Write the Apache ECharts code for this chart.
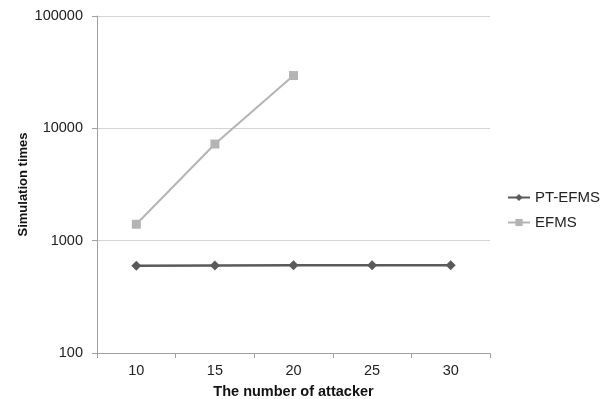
<!DOCTYPE html>
<html>
<head>
<meta charset="utf-8">
<script src="https://cdn.jsdelivr.net/npm/echarts@6/dist/echarts.min.js"></script>
<style>
html,body{margin:0;padding:0;background:#fff;}
#chart{width:610px;height:399px;}
</style>
</head>
<body>
<div id="chart"></div>
<script>
const categories = ['10', '15', '20', '25', '30'];
const ptEfms = [598, 602, 603, 603, 603];
const efms = [1400, 7250, 29500, null, null];
const seriesNames = ['PT-EFMS', 'EFMS'];

const chart = echarts.init(document.getElementById('chart'), null, {renderer: 'canvas'});
const font = 'Liberation Sans, Arial, sans-serif';
chart.setOption({
  animation: false,
  backgroundColor: '#ffffff',
  grid: {left: 97, right: 120, top: 16, bottom: 46, containLabel: false, outerBoundsMode: 'none'},
  legend: {
    orient: 'vertical', left: 507, top: 190, padding: 0,
    itemWidth: 22, itemHeight: 9, itemGap: 10,
    textStyle: {fontFamily: font, fontSize: 15, color: '#222'},
    data: seriesNames
  },
  xAxis: {
    type: 'category', data: categories, boundaryGap: true,
    name: 'The number of attacker', nameLocation: 'middle', nameGap: 31, nameMoveOverlap: false,
    nameTextStyle: {fontFamily: font, fontSize: 14.5, fontWeight: 'bold', color: '#111'},
    axisLine: {lineStyle: {color: '#a0a0a0', width: 1}},
    axisTick: {show: true, alignWithLabel: false, length: 5, lineStyle: {color: '#a0a0a0'}},
    axisLabel: {fontFamily: font, fontSize: 14.5, color: '#222', margin: 10},
    splitLine: {show: false}
  },
  yAxis: {
    type: 'log', logBase: 10, min: 100, max: 100000,
    name: 'Simulation times', nameLocation: 'middle', nameGap: 67, nameRotate: 90, nameMoveOverlap: false,
    nameTextStyle: {fontFamily: font, fontSize: 13, fontWeight: 'bold', color: '#111'},
    axisLine: {show: true, lineStyle: {color: '#a0a0a0', width: 1}},
    axisTick: {show: true, length: 5, lineStyle: {color: '#a0a0a0'}},
    axisLabel: {fontFamily: font, fontSize: 14.5, color: '#222', margin: 14,
      formatter: function (v) { return String(Math.round(v)); }},
    splitLine: {show: true, lineStyle: {color: '#d4d4d4', width: 1}},
    minorTick: {show: false}
  },
  series: [
    {
      name: seriesNames[0], type: 'line', data: ptEfms,
      symbol: 'diamond', symbolSize: 10, showAllSymbol: true,
      lineStyle: {color: '#5a5a5a', width: 2.5},
      itemStyle: {color: '#5a5a5a'}
    },
    {
      name: seriesNames[1], type: 'line', data: efms,
      symbol: 'rect', symbolSize: 9, showAllSymbol: true,
      lineStyle: {color: '#b4b4b4', width: 2},
      itemStyle: {color: '#b4b4b4'}
    }
  ]
});
</script>
</body>
</html>
